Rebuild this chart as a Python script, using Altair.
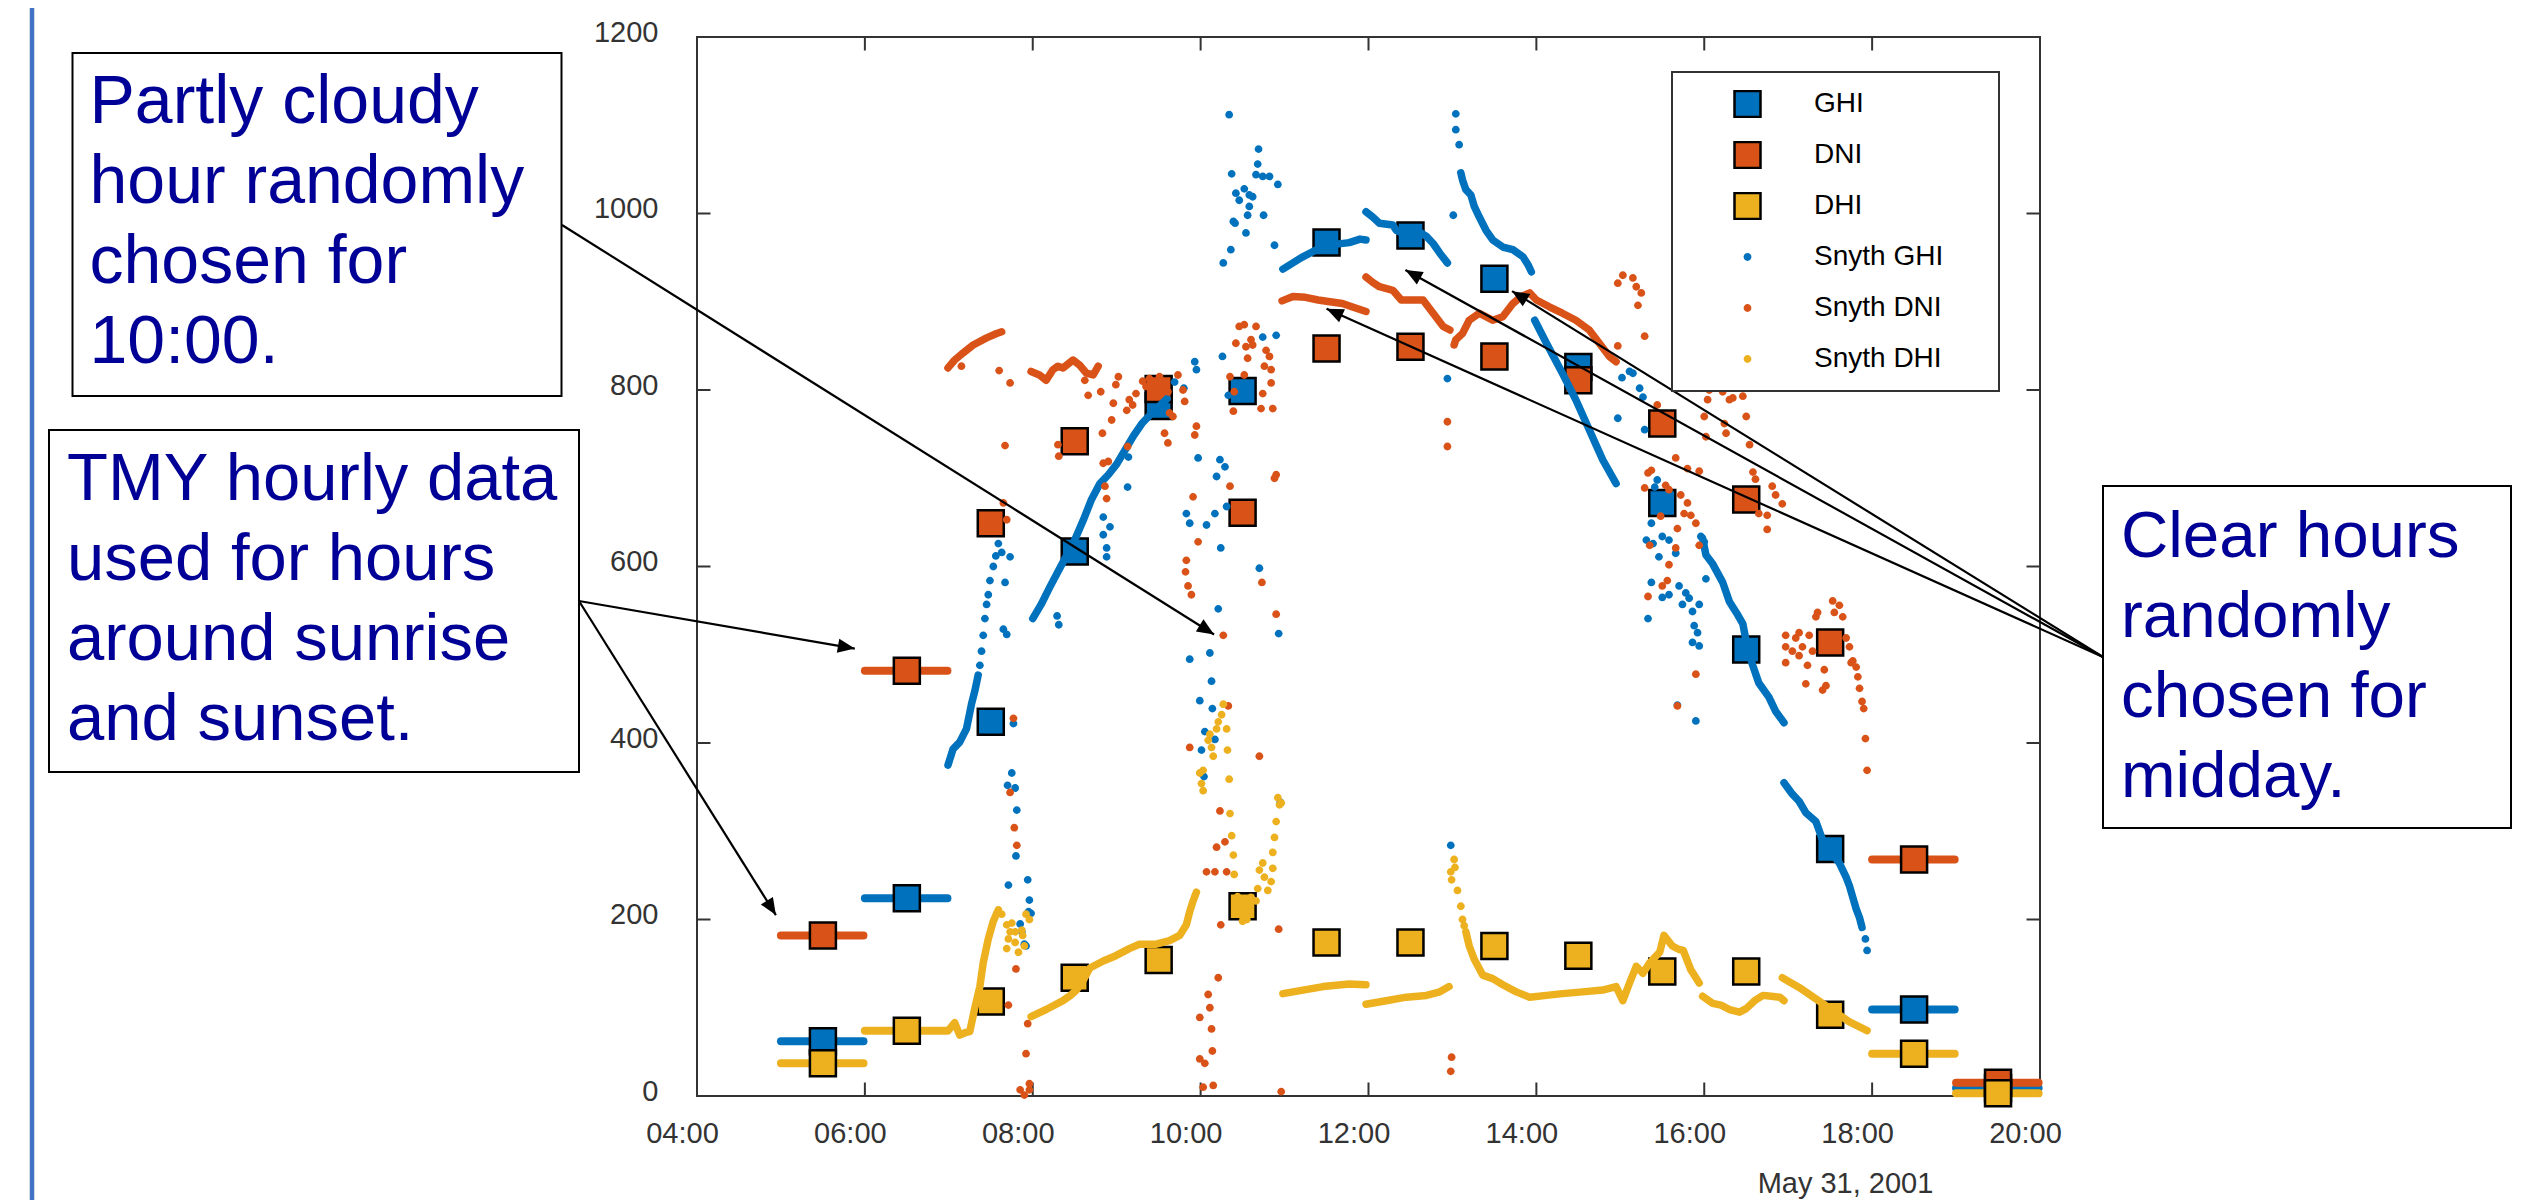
import math
import altair as alt
import pandas as pd

# ---------------- data ----------------
HOURS = [5.5, 6.5, 7.5, 8.5, 9.5, 10.5, 11.5, 12.5, 13.5, 14.5, 15.5, 16.5, 17.5, 18.5, 19.5]
TMY_GHI = [62, 224, 424, 617, 782, 799, 967, 975, 926, 826, 672, 506, 280, 98, 9]
TMY_DNI = [182, 482, 649, 742, 801, 661, 847, 849, 838, 811, 762, 676, 514, 268, 15]
TMY_DHI = [37, 74, 107, 134, 154, 215, 174, 174, 170, 159, 141, 141, 92, 48, 3]
TMY_ONLY_HOURS = [5.5, 6.5, 18.5, 19.5]

SYN_GHI_TRAILS = [
    [(6.99, 375), (7.05, 393), (7.13, 401), (7.21, 416), (7.27, 444), (7.31, 459), (7.35, 477)],
    [(8.0, 541), (8.1, 557), (8.2, 576), (8.3, 594), (8.4, 612), (8.5, 630), (8.6, 652), (8.7, 676),
     (8.8, 694), (8.9, 704), (9.0, 716), (9.1, 732), (9.2, 748), (9.3, 762), (9.4, 772), (9.5, 781), (9.6, 790)],
    [(10.98, 937), (11.1, 944), (11.2, 950), (11.34, 957), (11.45, 962), (11.6, 965), (11.77, 967), (11.9, 971), (11.97, 970)],
    [(11.97, 1002), (12.05, 996), (12.13, 989), (12.29, 987), (12.33, 981), (12.49, 974), (12.61, 979), (12.69, 974),
     (12.77, 966), (12.85, 955), (12.94, 944)],
    [(13.1, 1046), (13.12, 1038), (13.16, 1027), (13.22, 1021), (13.26, 1008), (13.32, 996), (13.4, 981), (13.48, 970),
     (13.6, 962), (13.72, 959), (13.84, 951), (13.9, 942), (13.94, 934)],
    [(13.98, 879), (14.12, 853), (14.31, 819), (14.47, 789), (14.63, 755), (14.79, 721), (14.95, 694)],
    [(15.98, 632), (16.02, 613), (16.1, 603), (16.22, 582), (16.3, 560), (16.4, 545), (16.46, 535), (16.5, 515),
     (16.57, 490), (16.65, 468), (16.77, 452), (16.85, 436), (16.95, 423)],
    [(16.95, 355), (17.05, 342), (17.13, 334), (17.21, 321), (17.33, 311), (17.41, 290), (17.45, 280), (17.57, 269),
     (17.61, 264), (17.69, 248), (17.73, 238), (17.77, 225), (17.81, 212), (17.85, 202), (17.88, 191)],
]
SYN_GHI_DOTS = [
    (7.37, 488), (7.39, 504), (7.41, 522), (7.43, 541), (7.45, 557), (7.47, 568), (7.49, 584), (7.53, 600),
    (7.56, 612), (7.59, 626), (7.63, 616), (7.67, 582), (7.73, 611), (7.65, 529), (7.69, 523), (7.75, 366),
    (7.7, 352), (7.79, 349), (7.81, 324), (7.8, 272), (7.71, 239), (7.94, 245), (7.96, 222), (7.95, 209),
    (7.98, 207), (7.85, 195), (7.87, 186), (7.9, 172), (7.92, 170), (7.77, 422),
    (8.29, 544), (8.31, 534), (8.84, 656), (8.92, 645), (8.84, 636), (8.88, 621), (8.88, 611), (9.13, 690),
    (9.14, 724), (9.69, 809), (9.8, 802), (9.93, 832), (9.95, 823), (9.97, 723), (9.83, 660), (9.87, 649),
    (10.34, 1112), (10.69, 1073), (10.68, 1056), (10.37, 1045), (10.66, 1044), (10.74, 1042), (10.82, 1042),
    (10.92, 1033), (10.42, 1023), (10.52, 1028), (10.46, 1015), (10.58, 1021), (10.62, 1019), (10.58, 1008),
    (10.56, 998), (10.75, 998), (10.39, 991), (10.41, 989), (10.54, 978), (10.88, 964), (10.36, 959),
    (10.27, 944), (10.74, 860), (10.9, 862), (10.26, 838), (10.33, 794), (10.23, 721), (10.29, 713),
    (10.19, 702), (10.31, 668), (10.17, 660), (10.07, 647), (10.24, 621), (10.7, 598), (10.21, 552),
    (10.93, 524), (10.11, 502), (9.87, 495), (10.13, 470), (9.99, 448), (10.14, 439), (10.05, 413),
    (10.17, 404), (10.01, 392), (10.04, 362), (10.95, 333),
    (13.01, 998), (13.04, 1113), (13.04, 1095), (13.08, 1078), (12.94, 813), (12.98, 284),
    (15.02, 814), (15.15, 819), (15.11, 821), (15.23, 802), (15.27, 792), (14.97, 768), (15.29, 755),
    (15.44, 698), (15.41, 690), (15.37, 649), (15.31, 630), (15.39, 626), (15.5, 634), (15.58, 630),
    (15.96, 634), (16.0, 628), (15.46, 611), (15.66, 615), (15.37, 582), (15.33, 541), (15.5, 565),
    (15.58, 568), (15.7, 578), (15.78, 570), (15.82, 564), (15.74, 557), (15.86, 549), (15.94, 557),
    (15.88, 533), (15.92, 525), (15.86, 514), (15.94, 510), (16.02, 586), (15.9, 425), (15.68, 443),
    (17.92, 178), (17.94, 165),
]

SYN_DNI_TRAILS = [
    [(6.99, 825), (7.07, 834), (7.17, 842), (7.29, 851), (7.45, 859), (7.57, 864), (7.63, 866)],
    [(7.98, 821), (8.08, 817), (8.16, 811), (8.24, 823), (8.3, 827), (8.36, 825), (8.48, 834), (8.56, 828),
     (8.64, 819), (8.72, 817), (8.78, 827)],
    [(10.97, 901), (11.1, 906), (11.25, 905), (11.4, 902), (11.54, 900), (11.69, 898), (11.81, 894), (11.97, 889)],
    [(11.97, 928), (12.05, 922), (12.13, 917), (12.29, 913), (12.39, 902), (12.53, 902), (12.65, 902),
     (12.77, 887), (12.89, 872), (12.97, 868)],
    [(13.02, 851), (13.04, 857), (13.12, 864), (13.2, 879), (13.32, 887), (13.48, 879), (13.6, 883),
     (13.72, 898), (13.82, 906), (13.92, 910), (14.0, 902), (14.16, 894), (14.31, 887), (14.47, 879),
     (14.63, 868), (14.75, 853), (14.87, 838), (14.95, 832)],
]
SYN_DNI_DOTS = [
    (7.15, 827), (7.6, 822), (7.73, 808), (7.67, 737), (8.3, 738), (8.31, 725), (7.65, 672), (7.69, 653),
    (7.77, 428), (7.73, 344), (7.78, 304), (7.81, 284), (7.8, 144), (7.71, 103), (7.94, 82), (7.92, 48),
    (7.96, 14), (7.85, 7), (7.9, 1), (7.96, 7),
    (8.62, 811), (8.66, 794), (8.81, 798), (9.02, 815), (8.99, 806), (8.96, 785), (8.94, 766), (8.83, 751),
    (9.12, 777), (9.15, 789), (9.23, 796), (9.31, 810), (9.39, 813), (9.51, 815), (9.55, 800), (9.73, 817),
    (9.79, 800), (9.63, 774), (9.57, 751), (9.61, 740), (9.81, 787), (9.95, 759), (9.93, 749), (8.84, 717),
    (8.9, 719), (9.13, 736), (8.86, 691), (8.88, 677), (9.91, 679), (9.97, 628), (9.83, 607), (9.19, 783),
    (9.35, 804), (9.61, 798), (9.67, 770),
    (9.82, 594), (9.85, 578), (9.89, 568), (10.27, 522), (10.9, 546), (10.73, 582), (10.33, 442), (9.87, 395),
    (10.7, 385), (10.23, 323), (10.19, 282), (10.29, 288), (10.07, 254), (10.17, 254), (10.31, 254),
    (10.24, 194), (10.93, 189), (10.21, 134), (10.09, 115), (10.11, 100), (9.99, 89), (10.13, 76),
    (10.14, 51), (9.99, 42), (10.05, 37), (10.03, 10), (10.15, 12), (10.96, 5),
    (10.46, 872), (10.52, 874), (10.66, 872), (10.42, 853), (10.54, 849), (10.6, 857), (10.62, 851),
    (10.56, 836), (10.78, 845), (10.82, 838), (10.76, 827), (10.84, 823), (10.35, 815), (10.52, 817),
    (10.84, 808), (10.4, 798), (10.74, 796), (10.39, 776), (10.72, 779), (10.86, 779), (10.35, 691),
    (10.9, 704), (10.88, 700),
    (12.94, 764), (12.94, 736), (12.99, 44), (12.98, 28),
    (14.97, 921), (15.03, 930), (15.15, 927), (15.19, 917), (15.25, 910), (15.21, 896), (15.29, 861), (14.97, 850),
    (16.06, 800), (16.22, 798), (16.3, 789), (16.46, 793), (16.04, 789), (16.0, 770), (16.24, 762), (15.44, 783),
    (16.02, 747), (16.26, 751), (15.66, 723), (15.8, 711), (15.94, 708), (15.37, 709), (15.33, 706), (15.29, 689),
    (15.54, 692), (15.58, 687), (15.72, 681), (15.8, 672), (15.76, 660), (15.84, 658), (15.9, 649), (15.48, 657),
    (15.68, 643), (15.94, 624), (15.66, 621), (15.35, 624),
    (15.58, 602), (15.5, 578), (15.56, 584), (15.33, 566), (15.9, 478), (15.68, 442),
    (16.34, 791), (16.5, 770), (16.54, 738), (16.58, 707), (16.61, 699), (16.81, 691), (16.85, 681),
    (16.93, 671), (16.65, 660), (16.75, 658), (16.75, 642),
    (16.97, 522), (17.13, 525), (17.25, 522), (17.33, 543), (17.35, 548), (17.53, 561), (17.61, 556),
    (17.65, 543), (16.97, 509), (17.05, 504), (17.13, 499), (16.97, 491), (17.23, 488), (17.21, 467),
    (17.43, 483), (17.41, 460), (17.45, 465), (17.73, 509), (17.77, 493), (17.81, 486), (17.83, 475),
    (17.85, 462), (17.88, 447), (17.9, 439), (17.92, 405), (17.94, 369), (17.09, 519), (17.17, 509),
    (17.29, 504), (17.55, 548), (17.69, 519), (17.75, 491),
]

SYN_DHI_TRAILS = [
    [(7.0, 75), (7.07, 83), (7.13, 69), (7.2, 72), (7.25, 73), (7.31, 100), (7.37, 124), (7.41, 151),
     (7.47, 178), (7.53, 198), (7.59, 211)],
    [(7.98, 90), (8.16, 98), (8.36, 108), (8.45, 114), (8.52, 120), (8.6, 131), (8.68, 145), (8.84, 153),
     (8.99, 159), (9.15, 167), (9.27, 172), (9.47, 172), (9.63, 176), (9.75, 182), (9.83, 194), (9.87, 209),
     (9.91, 221), (9.95, 231)],
    [(10.98, 116), (11.22, 120), (11.46, 124), (11.77, 127), (11.97, 126)],
    [(11.97, 104), (12.21, 108), (12.45, 112), (12.69, 114), (12.85, 118), (12.96, 124)],
    [(13.16, 186), (13.2, 170), (13.26, 155), (13.36, 137), (13.48, 133), (13.6, 126), (13.76, 118),
     (13.92, 112), (14.12, 114), (14.31, 116), (14.55, 118), (14.79, 120), (14.95, 124), (15.03, 108),
     (15.11, 128), (15.19, 147), (15.27, 139), (15.35, 151), (15.47, 163), (15.52, 182), (15.62, 170),
     (15.7, 166), (15.75, 165), (15.84, 143), (15.94, 128)],
    [(15.98, 113), (16.1, 105), (16.2, 103), (16.3, 98), (16.42, 95), (16.5, 99), (16.6, 108), (16.7, 114),
     (16.8, 113), (16.9, 112), (16.95, 108)],
    [(16.93, 134), (17.13, 123), (17.33, 110), (17.53, 97), (17.73, 84), (17.94, 74)],
]
SYN_DHI_DOTS = [
    (7.63, 206), (7.69, 194), (7.75, 196), (7.71, 178), (7.79, 186), (7.87, 188), (7.69, 167), (7.83, 163),
    (7.92, 206), (7.96, 200), (7.9, 170), (7.88, 182), (7.73, 186), (7.79, 174),
    (10.27, 444), (10.25, 432), (10.21, 424), (10.19, 416), (10.11, 410), (10.09, 403), (10.13, 395),
    (10.15, 385), (10.31, 416), (10.32, 392), (10.03, 369), (9.99, 366), (10.01, 354), (10.03, 346),
    (10.34, 359), (10.35, 320), (10.37, 295), (10.39, 273), (10.4, 251), (10.46, 217), (10.5, 198),
    (10.58, 213), (10.66, 221), (10.68, 235), (10.7, 256), (10.74, 264), (10.76, 248), (10.8, 233),
    (10.84, 243), (10.86, 258), (10.86, 276), (10.88, 293), (10.9, 311), (10.92, 338), (10.94, 330),
    (10.96, 332), (10.48, 205), (10.52, 210), (10.55, 200), (10.6, 225), (10.44, 226),
    (13.02, 268), (13.03, 259), (12.98, 254), (12.99, 245), (13.06, 233), (13.1, 215), (13.12, 200), (13.14, 193),
]

SERIES = ["GHI", "DNI", "DHI", "Snyth GHI", "Snyth DNI", "Snyth DHI"]
X_TICKS = [4, 6, 8, 10, 12, 14, 16, 18, 20]
Y_TICKS = [0, 200, 400, 600, 800, 1000, 1200]
DATE_LABEL = "May 31, 2001"

NOTE_CLOUDY = ["Partly cloudy", "hour randomly", "chosen for", "10:00."]
NOTE_TMY = ["TMY hourly data", "used for hours", "around sunrise", "and sunset."]
NOTE_CLEAR = ["Clear hours", "randomly", "chosen for", "midday."]
# arrow tips (data coordinates) for each note
TIPS_CLOUDY = [(10.16, 523)]
TIPS_TMY = [(5.88, 507), (4.94, 205)]
TIPS_CLEAR = [(12.44, 936), (13.71, 912), (11.5, 892)]

# ---------------- style ----------------
W, H = 1343, 1059
XDOM, YDOM = [4, 20], [0, 1200]
BLUE, ORANGE, YELLOW = "#0072BD", "#D95319", "#EDB120"
AXC = "#333333"
FONT = "Liberation Sans"
NAVY = "#000096"
SQ = "M-1,-1H1V1H-1Z"
DOT = "M0.3,0A0.3,0.3,0,1,1,-0.3,0A0.3,0.3,0,1,1,0.3,0Z"
ARROW = "M0,0L-1,-0.42L-1,0.42Z"

XS = alt.Scale(domain=XDOM, nice=False, zero=False)
YS = alt.Scale(domain=YDOM, nice=False, zero=False)
XAX = alt.Axis(values=X_TICKS, labelExpr="(datum.value < 10 ? '0' : '') + datum.value + ':00'",
               domain=False, ticks=False, tickSize=0, grid=False, labelFontSize=29, labelFont=FONT,
               labelColor=AXC, labelPadding=46, labelBaseline="alphabetic", labelOffset=-15,
               labelFlush=False, labelOverlap=False, labelBound=False,
               title=DATE_LABEL, titleX=1148, titleY=96, titleAlign="center", titleBaseline="alphabetic",
               titleFontSize=29, titleFont=FONT, titleFontWeight="normal", titleColor=AXC, titleAngle=0)
YAX = alt.Axis(values=Y_TICKS, format="d", domain=False, ticks=False, tickSize=0, grid=False, labelFontSize=29,
               labelFont=FONT, labelColor=AXC, labelPadding=39, labelOffset=-5, labelFlush=False,
               labelOverlap=False, title=None)


def X(f):
    return alt.X(f, type="quantitative", scale=XS, axis=XAX)


def Y(f):
    return alt.Y(f, type="quantitative", scale=YS, axis=YAX)


LEG = dict(title=" ", orient="none", legendX=975, legendY=35)
COLOR = alt.Color("series:N", scale=alt.Scale(domain=SERIES, range=[BLUE, ORANGE, YELLOW] * 2),
                  legend=alt.Legend(**LEG))
SHAPE = alt.Shape("series:N", scale=alt.Scale(domain=SERIES, range=[SQ] * 3 + [DOT] * 3),
                  legend=alt.Legend(**LEG))
STROKE = alt.Stroke("series:N", scale=alt.Scale(domain=SERIES, range=["black"] * 3 + ["transparent"] * 3),
                    legend=alt.Legend(**LEG))

# ---------------- frames ----------------
hourly = pd.DataFrame(
    [{"h": h, "v": v, "series": "GHI"} for h, v in zip(HOURS, TMY_GHI)]
    + [{"h": h, "v": v, "series": "DNI"} for h, v in zip(HOURS, TMY_DNI)]
    + [{"h": h, "v": v, "series": "DHI"} for h, v in zip(HOURS, TMY_DHI)]
)


def tmy_lines(vals):
    rows = []
    for h, v in zip(HOURS, vals):
        if h in TMY_ONLY_HOURS:
            rows.append({"h": h - 0.5, "h2": h - 0.5 + 59 / 60, "v": v})
    return pd.DataFrame(rows)


def trails(segs):
    return pd.DataFrame([{"h": h, "v": v, "seg": i} for i, s in enumerate(segs) for h, v in s])


def dots(pts, name):
    return pd.DataFrame([{"h": h, "v": v, "series": name} for h, v in pts])


one = pd.DataFrame({"k": [0]})

layers = []
# slide accent bar at far left
layers.append(alt.Chart(one).mark_rule(color="#4472C4", strokeWidth=4.5).encode(
    x=alt.value(-665), y=alt.value(-37), y2=alt.value(1164)))

# inward ticks on all four sides
xt = pd.DataFrame({"h": X_TICKS})
yt = pd.DataFrame({"v": Y_TICKS})
TL = 13.5
layers.append(alt.Chart(xt).mark_rule(color=AXC, strokeWidth=2).encode(x=X("h"), y=alt.value(H), y2=alt.value(H - TL)))
layers.append(alt.Chart(xt).mark_rule(color=AXC, strokeWidth=2).encode(x=X("h"), y=alt.value(0), y2=alt.value(TL)))
layers.append(alt.Chart(yt).mark_rule(color=AXC, strokeWidth=2).encode(y=Y("v"), x=alt.value(0), x2=alt.value(TL)))
layers.append(alt.Chart(yt).mark_rule(color=AXC, strokeWidth=2).encode(y=Y("v"), x=alt.value(W), x2=alt.value(W - TL)))

# TMY hours shown as flat lines
for vals, col in [(TMY_GHI, BLUE), (TMY_DNI, ORANGE), (TMY_DHI, YELLOW)]:
    layers.append(alt.Chart(tmy_lines(vals)).mark_rule(color=col, strokeWidth=8, strokeCap="round").encode(
        x=X("h"), x2="h2:Q", y=Y("v")))

# hourly squares
layers.append(alt.Chart(hourly).mark_point(filled=True, size=676, opacity=1, strokeWidth=2.5).encode(
    x=X("h"), y=Y("v"), color=COLOR, shape=SHAPE, stroke=STROKE))

# synthetic 1-minute data
for segs, pts, col, name in [(SYN_GHI_TRAILS, SYN_GHI_DOTS, BLUE, "Snyth GHI"),
                             (SYN_DNI_TRAILS, SYN_DNI_DOTS, ORANGE, "Snyth DNI"),
                             (SYN_DHI_TRAILS, SYN_DHI_DOTS, YELLOW, "Snyth DHI")]:
    layers.append(alt.Chart(trails(segs)).mark_line(color=col, strokeWidth=7.5, strokeCap="round",
                                                    strokeJoin="round").encode(
        x=X("h"), y=Y("v"), detail="seg:N", order="h:Q"))
    layers.append(alt.Chart(dots(pts, name)).mark_point(filled=True, size=676, opacity=1, strokeWidth=2.5).encode(
        x=X("h"), y=Y("v"), color=COLOR, shape=SHAPE, stroke=STROKE))

# annotation boxes, texts and arrows
NOTES = [
    (NOTE_CLOUDY, 68, (-624.5, 16, -135.5, 359), (-607.5, 86), (-135, 188), TIPS_CLOUDY),
    (NOTE_TMY, 67, (-648, 393, -118, 735), (-630, 463), (-118, 564), TIPS_TMY),
    (NOTE_CLEAR, 65.5, (1406, 449, 1814, 791), (1424, 520), (1406, 620), TIPS_CLEAR),
]


def px(h):
    return (h - XDOM[0]) / (XDOM[1] - XDOM[0]) * W


def py(v):
    return (YDOM[1] - v) / (YDOM[1] - YDOM[0]) * H


for lines, fs, (bx, by, bx2, by2), (tx, ty), (sx, sy), tips in NOTES:
    layers.append(alt.Chart(one).mark_rect(fill="white", stroke="black", strokeWidth=2).encode(
        x=alt.value(bx), y=alt.value(by), x2=alt.value(bx2), y2=alt.value(by2)))
    layers.append(alt.Chart(one).mark_text(align="left", baseline="alphabetic", fontSize=fs, font=FONT,
                                           color=NAVY, lineHeight=80).encode(
        x=alt.value(tx), y=alt.value(ty), text=alt.value(lines)))
    arr = pd.DataFrame([{"h": h, "v": v,
                         "ang": math.degrees(math.atan2(py(v) - sy, px(h) - sx)) % 360} for h, v in tips])
    layers.append(alt.Chart(arr).mark_rule(color="black", strokeWidth=2.2).encode(
        x=X("h"), y=Y("v"), x2=alt.value(sx), y2=alt.value(sy)))
    layers.append(alt.Chart(arr).mark_point(shape=ARROW, filled=True, size=1156, color="black", opacity=1,
                                            strokeWidth=0).encode(
        x=X("h"), y=Y("v"), angle=alt.Angle("ang:Q", scale=None)))

chart = alt.layer(*layers).properties(
    width=W, height=H,
    autosize=alt.AutoSizeParams(type="none"),
    padding={"left": 689, "top": 29, "right": 495, "bottom": 104},
    background="white",
).configure_view(stroke=AXC, strokeWidth=2).configure_legend(
    padding=18, strokeColor=AXC, strokeWidth=2, fillColor="white",
    symbolSize=676, symbolStrokeWidth=2.5, symbolOffset=43, symbolOpacity=1,
    labelOffset=52, labelFontSize=28, labelFont=FONT, labelColor="black", labelLimit=400,
    clipHeight=28, rowPadding=23, titleOrient="right", titlePadding=38, titleFontSize=26, titleFont=FONT,
).configure_text(font=FONT)

chart.save("out.html", embed_options={"renderer": "svg", "actions": False})
